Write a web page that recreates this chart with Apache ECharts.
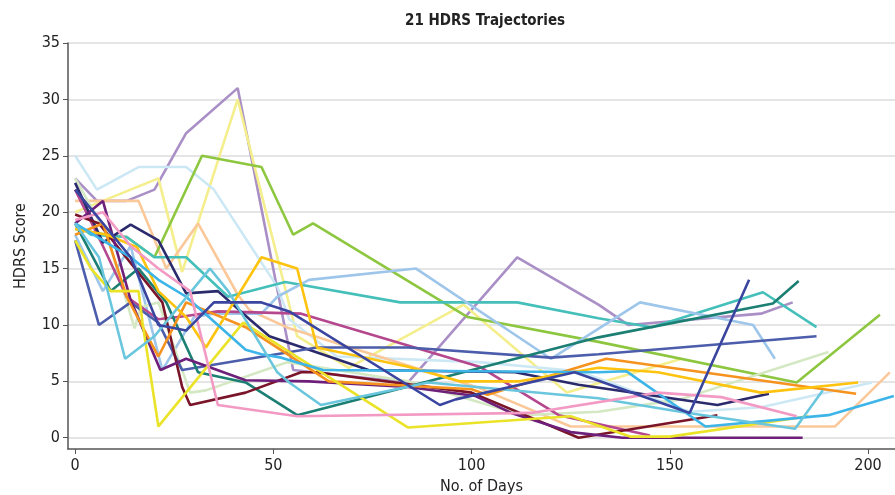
<!DOCTYPE html>
<html>
<head>
<meta charset="utf-8">
<script src="https://cdn.jsdelivr.net/npm/echarts/dist/echarts.min.js"></script>
<style>html,body{margin:0;padding:0;background:#fff}#c{width:895px;height:495px}</style>
</head>
<body>
<div id="c"></div>
<script>
// Tick labels
var xTicks = [0, 50, 100, 150, 200];
var yTicks = [0, 5, 10, 15, 20, 25, 30, 35];

// Trajectories: [day, HDRS score]
var lavender = [[0,23],[5.5,21],[13,21],[20,22],[28,27],[41,31],[55,6],[84,4.9],[111.5,16],[132,11.8],[139.5,10],[173,11],[181,12]];
var lightYellow = [[0,20],[21,23],[27,14.7],[41,30],[56,9],[69,6.2],[98,11.8],[124,4],[153,7]];
var green = [[0,18.5],[8,18],[13,17.8],[20,16],[32,25],[47,24],[55,18],[60,19],[99,10.7],[132,8.5],[182,4.9],[203,10.9]];
var paleBlue = [[0,25],[5.5,22],[16,24],[28,24],[35,22],[45,16.6],[51,13.4],[54,10.5],[66,7.2],[102,6.7],[127,5.9],[155,2.3],[173,2.7],[201,4.9]];
var peach = [[0,21],[16,21],[23,15],[31,19],[41,12.7],[44,11.3],[54,9.7],[102,4.4],[125,1],[191.7,1],[205.5,5.8]];
var turquoise = [[0,19],[4,18],[13,17.8],[20,16],[28,16],[38.6,12.5],[53,13.8],[82,12],[111.5,12],[132,10.6],[145.5,9.8],[173.5,12.9],[187,9.8]];
var steelBlue = [[0,18],[7,13],[14,17],[22,6],[30,10.7],[35,11],[47,11],[51,12.5],[59,14],[86,15],[120,7],[142.5,12],[171,10],[176.5,7]];
var magenta = [[0,22],[7,17],[13,12.5],[21,10.5],[28,10.8],[36,11.2],[57,11],[102,6.3],[122,2],[145,0.2]];
var navy = [[0,22.6],[7,17.3],[14,18.9],[21,17.5],[28,12.8],[36,13],[44,10.5],[49,9],[54,8.4],[74,6],[111,5.8],[127,4.7],[162,2.9],[175,3.9]];
var medBlue = [[0,17.5],[6,10],[14,12],[21,10.2],[27,6],[61,8],[84,8],[120,7.1],[132,7.4],[187,9]];
var darkTeal = [[0,19],[9,13],[16,15],[23,12],[31,5.8],[43,4.9],[56,2],[132,8.9],[176,11.9],[182.5,13.9]];
var darkRed = [[0,19.8],[6,19],[22,12],[27,4.5],[29,2.9],[43,4],[57,5.8],[61,5.8],[100,4],[127,0],[162,2]];
var darkPurple = [[0,19],[7,21],[14,12.2],[21.5,6],[28,7],[43,5.1],[59,5],[84,4.5],[101,3.7],[110,2.2],[125,0.5],[138,0],[183.5,0]];
var orange = [[0,18],[7,19],[13,12.5],[21,7.2],[28,12],[43,9.8],[54,7.3],[64,5],[100,4.3],[104,3.8],[134,7],[197,3.9]];
var gold = [[0,18.5],[8,18],[15.6,16.9],[21,13],[28,10.7],[33,8],[47,16],[56,15],[61,8],[84,6.3],[97,5],[112,5],[132,6.2],[147,5.8],[173,4],[197.5,4.9]];
var brightYellow = [[0,17.5],[4,15],[9,13],[16,13],[17,10.2],[21,1],[42.4,10.2],[84,0.9],[125,1.9],[140,0.1],[150,0.1],[185,1.9]];
var skyBlue = [[0,19],[7,17.5],[14,16],[21,14],[28,12.5],[36,10],[43,7.8],[47,7.4],[52,7.1],[62.5,6],[132,5.8],[139,5.9],[159,1],[190,2],[206.5,3.7]];
var cyan = [[0,19],[6,16],[12.6,7],[20,9],[34,15],[38.6,13],[51,5.8],[54,4.9],[62,2.9],[89,4.9],[132,3.5],[152.6,2.3],[181.6,0.8],[188.6,4.2]];
var pink = [[0,19.3],[7,20],[14,17],[21,15],[29,13],[36,2.9],[56,1.9],[115,2.2],[147,4],[163,3.6],[182,1.9]];
var paleGreen = [[0,23],[8,18],[15,9.7],[16.5,11.6],[21,12],[29,4],[33,4.2],[53.5,6.7],[84,5],[113,2],[132,2.3],[152.6,3.4],[190,7.6]];
var royalBlue = [[0,22],[7,19],[14,16],[21,10],[28,9.5],[35,12],[47,12],[54,11.2],[92,2.9],[96,3.4],[126,5.8],[155,2.2],[170,14]];

var trajectories = [
  ['lavender', lavender, '#a98fc6'],
  ['lightYellow', lightYellow, '#f4ee8c'],
  ['paleBlue', paleBlue, '#cde8f5'],
  ['peach', peach, '#fbc899'],
  ['green', green, '#8dc63f'],
  ['turquoise', turquoise, '#45bfb9'],
  ['steelBlue', steelBlue, '#9dc6ea'],
  ['paleGreen', paleGreen, '#d4e8c3'],
  ['magenta', magenta, '#b5478f'],
  ['navy', navy, '#2b2a6d'],
  ['medBlue', medBlue, '#4b5dab'],
  ['darkTeal', darkTeal, '#1b7f74'],
  ['darkRed', darkRed, '#7a1428'],
  ['darkPurple', darkPurple, '#6d1f79'],
  ['orange', orange, '#f6921e'],
  ['gold', gold, '#fec30f'],
  ['brightYellow', brightYellow, '#ebe328'],
  ['skyBlue', skyBlue, '#3db5e8'],
  ['cyan', cyan, '#69c6dc'],
  ['pink', pink, '#f29ac3'],
  ['royalBlue', royalBlue, '#3a45a0']
];

var FONT = "'Liberation Sans Narrow','DejaVu Sans Condensed','Roboto Condensed',sans-serif";

var chart = echarts.init(document.getElementById('c'), null, {renderer: 'canvas'});
chart.setOption({
  animation: false,
  backgroundColor: '#fff',
  title: {
    text: '21 HDRS Trajectories',
    left: 400, top: 9,
    textStyle: {fontFamily: FONT, fontWeight: 'bold', fontSize: 15, color: '#222'}
  },
  grid: {left: 68, right: 0, top: 43, bottom: 46, containLabel: false, outerBoundsMode: 'none'},
  xAxis: {
    type: 'value', min: -1.8, max: 206.8,
    name: 'No. of Days', nameLocation: 'middle', nameGap: 30,
    nameTextStyle: {fontFamily: FONT, fontSize: 16, color: '#222'},
    axisLine: {show: true, onZero: false, lineStyle: {color: '#555', width: 1.5}},
    axisTick: {show: true, customValues: xTicks, length: 5, lineStyle: {color: '#555'}},
    axisLabel: {customValues: xTicks, fontFamily: FONT, fontSize: 16, color: '#222', margin: 9},
    splitLine: {show: false}
  },
  yAxis: {
    type: 'value', min: -1, max: 35,
    name: 'HDRS Score', nameLocation: 'middle', nameGap: 39,
    nameTextStyle: {fontFamily: FONT, fontSize: 16, color: '#222'},
    axisLine: {show: true, onZero: false, lineStyle: {color: '#555', width: 1.5}},
    axisTick: {show: true, customValues: yTicks, length: 5, lineStyle: {color: '#555'}},
    axisLabel: {customValues: yTicks, fontFamily: FONT, fontSize: 16, color: '#222', margin: 8},
    splitLine: {show: true, lineStyle: {color: '#dcdcdc', width: 1.5}}
  },
  series: trajectories.map(function (t) {
    return {
      name: t[0], type: 'line', data: t[1], showSymbol: false, symbol: 'none',
      lineStyle: {color: t[2], width: 2.6}, itemStyle: {color: t[2]},
      clip: true
    };
  })
});
</script>
</body>
</html>
